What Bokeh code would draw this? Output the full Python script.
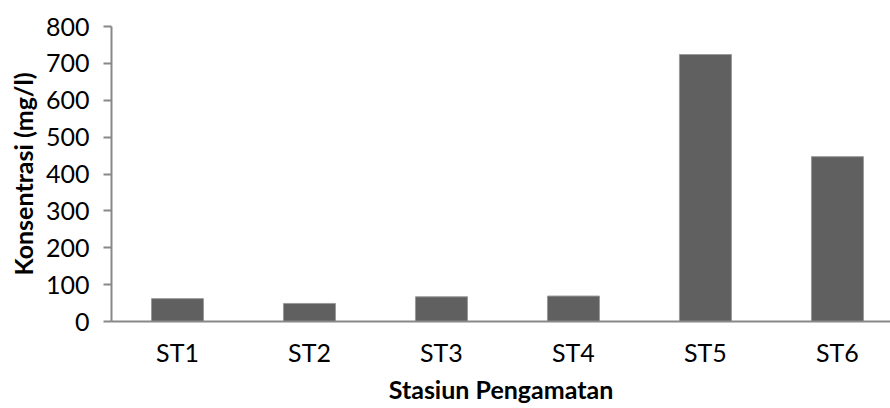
from bokeh.plotting import figure
from bokeh.models import ColumnDataSource, Range1d, FixedTicker
from bokeh.embed import file_html
from bokeh.resources import INLINE

# Concentration measured at each observation station (mg/l)
stations = ["ST1", "ST2", "ST3", "ST4", "ST5", "ST6"]
concentration = [62, 49, 67, 69, 724, 447]
y_ticks = [0, 100, 200, 300, 400, 500, 600, 700, 800]

positions = list(range(len(stations)))
source = ColumnDataSource(data=dict(x=positions, y=concentration, name=stations))

FONT = "Lato"
AXIS_GREY = "#888888"

p = figure(
    width=890, height=408,
    output_backend="svg", toolbar_location=None,
    x_range=Range1d(-0.5, 5.402), y_range=Range1d(0, 800),
    min_border_left=111, min_border_right=0,
    min_border_top=26, min_border_bottom=87,
)
p.outline_line_color = None
p.xgrid.visible = False
p.ygrid.visible = False
p.background_fill_color = "white"
p.border_fill_color = "white"

p.vbar(x="x", top="y", width=0.394, source=source,
       fill_color="#606060", line_color="#9a9a9a", line_width=1)

# y axis
ya = p.yaxis[0]
ya.ticker = FixedTicker(ticks=y_ticks)
ya.axis_line_color = AXIS_GREY
ya.axis_line_width = 2
ya.major_tick_line_color = AXIS_GREY
ya.major_tick_line_width = 2
ya.major_tick_out = 8
ya.major_tick_in = 0
ya.minor_tick_line_color = None
ya.major_label_standoff = 14
ya.major_label_text_font = FONT
ya.major_label_text_font_size = "25px"
ya.major_label_text_color = "black"
ya.axis_label = "Konsentrasi (mg/l)"
ya.axis_label_text_font = FONT
ya.axis_label_text_font_style = "bold"
ya.axis_label_text_font_size = "25px"
ya.axis_label_text_color = "black"
ya.axis_label_standoff = 5

# x axis with station names as labels
xa = p.xaxis[0]
xa.ticker = FixedTicker(ticks=positions)
xa.major_label_overrides = {i: s for i, s in zip(positions, stations)}
xa.axis_line_color = AXIS_GREY
xa.axis_line_width = 2
xa.major_tick_line_color = None
xa.major_tick_out = 0
xa.major_tick_in = 0
xa.minor_tick_line_color = None
xa.major_label_standoff = 15
xa.major_label_text_font = FONT
xa.major_label_text_font_size = "25px"
xa.major_label_text_color = "black"
xa.axis_label = "Stasiun Pengamatan"
xa.axis_label_text_font = FONT
xa.axis_label_text_font_style = "bold"
xa.axis_label_text_font_size = "25px"
xa.axis_label_text_color = "black"
xa.axis_label_standoff = 4

open("out.html", "w").write(file_html(p, INLINE))
